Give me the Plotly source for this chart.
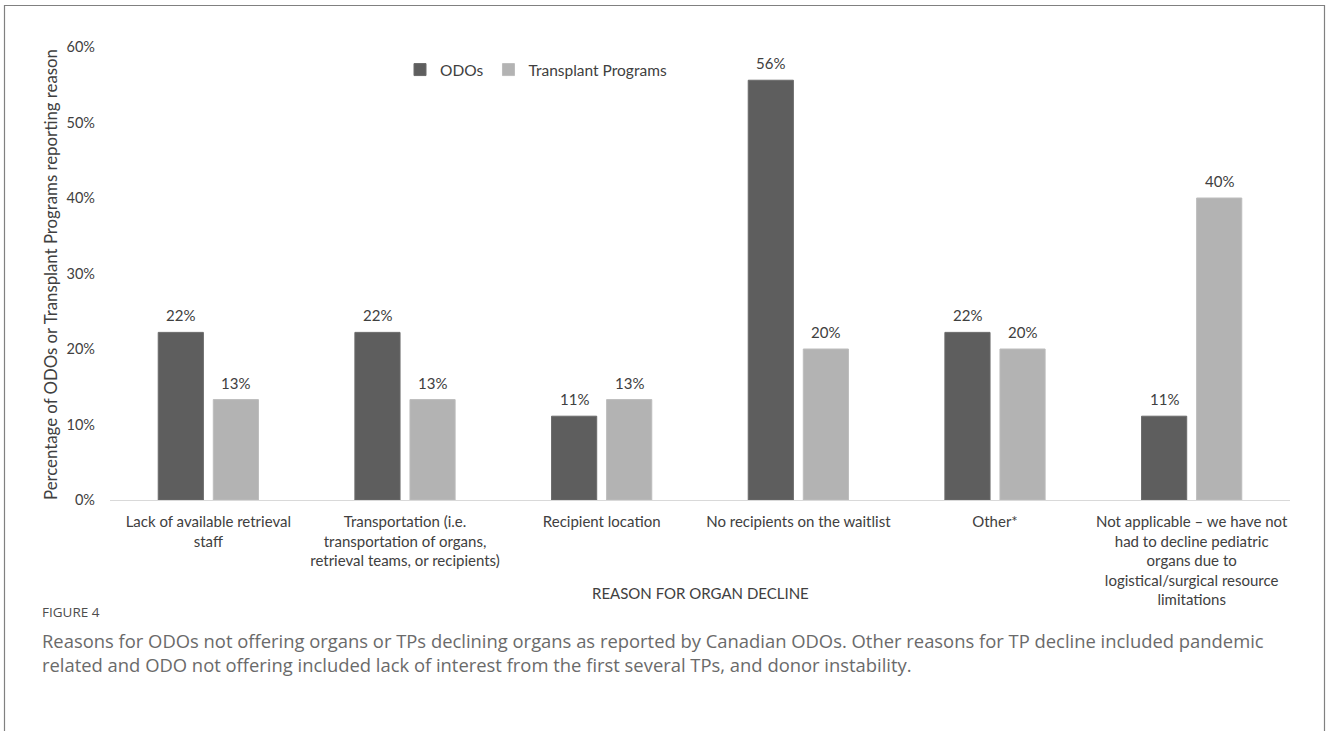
import plotly.graph_objects as go

categories = [
    "Lack of available retrieval<br>staff",
    "Transportation (i.e.<br>transportation of organs,<br>retrieval teams, or recipients)",
    "Recipient location",
    "No recipients on the waitlist",
    "Other*",
    "Not applicable – we have not<br>had to decline pediatric<br>organs due to<br>logistical/surgical resource<br>limitations",
]
odos = [22.2, 22.2, 11.1, 55.6, 22.2, 11.1]
tps = [13.3, 13.3, 13.3, 20.0, 20.0, 40.0]
y_ticks = [0, 10, 20, 30, 40, 50, 60]
y_tick_labels = ["0%", "10%", "20%", "30%", "40%", "50%", "60%"]

W, H = 1328, 731
L, R, T, B = 110, 38, 47, 231
PW, PH = W - L - R, H - T - B


def px(x):
    return (x - L) / PW


def py(y):
    return (H - B - y) / PH


DARK = "#5e5e5e"
LIGHT = "#b3b3b3"
TXT = "#404040"
FONT = "Lato"

fig = go.Figure()
fig.add_trace(go.Bar(x=categories, y=odos, name="ODOs", marker_color=DARK,
                     marker_line=dict(color="#6a6a6a", width=1)))
fig.add_trace(go.Bar(x=categories, y=tps, name="Transplant Programs", marker_color=LIGHT,
                     marker_line=dict(color="#bdbdbd", width=1)))

annotations = []
for i, c in enumerate(categories):
    for val, shift in ((odos[i], -27.5), (tps[i], 27.5)):
        annotations.append(dict(x=c, y=val, xref="x", yref="y", text=f"{val:.0f}%",
                                showarrow=False, xshift=shift, yshift=17, yanchor="middle",
                                font=dict(family=FONT, size=15, color=TXT)))

annotations.append(dict(x=0.5, y=py(593), xref="paper", yref="paper",
                        xanchor="center", yanchor="middle",
                        text="REASON FOR ORGAN DECLINE", showarrow=False,
                        font=dict(family=FONT, size=15, color=TXT)))
annotations.append(dict(x=px(50), y=py(275), xref="paper", yref="paper", textangle=-90,
                        xanchor="center", yanchor="middle",
                        text="Percentage of ODOs or Transplant Programs reporting reason",
                        showarrow=False, font=dict(family=FONT, size=16.8, color=TXT)))
annotations.append(dict(x=px(40), y=py(612), xref="paper", yref="paper",
                        xanchor="left", yanchor="middle",
                        text="FIGURE 4", showarrow=False,
                        font=dict(family="Open Sans", size=13.5, color="#4d4d4d")))
annotations.append(dict(x=px(40), y=py(652), xref="paper", yref="paper",
                        xanchor="left", yanchor="middle", align="left",
                        text="Reasons for ODOs not offering organs or TPs declining organs as reported by Canadian ODOs. Other reasons for TP decline included pandemic<br>"
                             "related and ODO not offering included lack of interest from the first several TPs, and donor instability.",
                        showarrow=False,
                        font=dict(family="Open Sans", size=18.4, color="#6a6a6a")))

fig.update_layout(
    width=W, height=H,
    margin=dict(l=L, r=R, t=T, b=B),
    paper_bgcolor="white", plot_bgcolor="white",
    barmode="group", bargap=0.44, bargroupgap=0.18,
    font=dict(family=FONT, size=14, color=TXT),
    showlegend=True,
    legend=dict(orientation="h", x=px(400), y=py(70), xanchor="left", yanchor="middle",
                font=dict(family=FONT, size=15.5, color=TXT), itemwidth=30,
                bgcolor="rgba(0,0,0,0)"),
    annotations=annotations,
    shapes=[dict(type="rect", xref="paper", yref="paper",
                 x0=px(4.5), x1=px(1324.5), y0=py(760), y1=py(5.5),
                 line=dict(color="#808080", width=1.2))],
)
fig.update_xaxes(showline=True, linecolor="#d9d9d9", linewidth=1, showgrid=False,
                 ticks="outside", ticklen=8, tickcolor="rgba(0,0,0,0)",
                 tickfont=dict(family=FONT, size=15, color=TXT), fixedrange=True)
fig.update_yaxes(range=[0, 60], tickvals=y_ticks, ticktext=y_tick_labels, showgrid=False,
                 zeroline=False, showline=False, ticks="", ticklabelstandoff=14,
                 tickfont=dict(family=FONT, size=14.5, color=TXT))

fig.write_html("out.html")
